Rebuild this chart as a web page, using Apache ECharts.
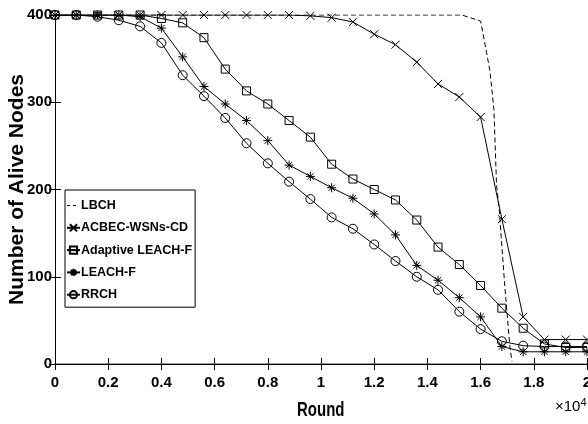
<!DOCTYPE html>
<html>
<head>
<meta charset="utf-8">
<script type="text/javascript" src="https://cdn.jsdelivr.net/npm/echarts@6/dist/echarts.min.js"></script>
<style>
  html, body { margin: 0; padding: 0; background: #fff; }
  #container { width: 588px; height: 424px; }
</style>
</head>
<body>
<div id="container"></div>
<script type="text/javascript">
    // rounds where markers sit (every 800 rounds)
    var rounds = [0, 800, 1600, 2400, 3200, 4000, 4800, 5600, 6400, 7200, 8000, 8800, 9600,
                  10400, 11200, 12000, 12800, 13600, 14400, 15200, 16000, 16800, 17600, 18400, 19200, 20000];
    var acbec    = [400, 400, 400, 400, 400, 400, 400, 400, 400, 400, 400, 400, 399, 397, 392, 378, 366, 346, 321, 306, 283, 166, 54, 28, 28, 28];
    var adaptive = [400, 400, 400, 400, 400, 396, 391, 374, 338, 313, 298, 279, 260, 229, 212, 200, 188, 165, 134, 114, 90, 64, 41, 23, 19, 19];
    var leachF   = [400, 400, 400, 400, 398, 385, 352, 318, 298, 279, 256, 228, 215, 202, 190, 172, 148, 113, 96, 76, 54, 20, 14, 14, 14, 14];
    var rrch     = [400, 400, 398, 394, 387, 368, 331, 307, 282, 253, 230, 209, 189, 168, 155, 137, 118, 100, 85, 60, 40, 26, 21, 20, 20, 20];
    // LBCH dashed curve (no markers)
    var lbchRounds = [0, 15300, 16000, 16170, 16350, 16500, 16600, 16700, 16900, 17100, 17180];
    var lbchNodes  = [400, 400, 393, 366, 336, 292, 205, 177, 93, 20, 3];
    var xTicks = ['0', '0.2', '0.4', '0.6', '0.8', '1', '1.2', '1.4', '1.6', '1.8', '2'];

    var font = '"Liberation Sans", Arial, sans-serif';

    function pairs(xs, ys) {
        var out = [];
        for (var i = 0; i < xs.length; i++) out.push([xs[i], ys[i]]);
        return out;
    }

    var xMark = 'path://M0,0L10,10M10,0L0,10';
    var star = 'path://M0,5L10,5M5,0L5,10M1.5,1.5L8.5,8.5M8.5,1.5L1.5,8.5';

    function lineSeries(name, ys, symbol, size) {
        return {
            name: name,
            type: 'line',
            data: pairs(rounds, ys),
            symbol: symbol,
            symbolSize: size,
            showAllSymbol: true,
            lineStyle: {color: '#000', width: 1},
            itemStyle: {color: 'none', borderColor: '#000', borderWidth: 1}
        };
    }

    var myChart = echarts.init(document.getElementById('container'));
    var option = {
        backgroundColor: '#fff',
        animation: false,
        grid: {left: 55, right: 1, top: 15, bottom: 60, outerBoundsMode: 'none', containLabel: false},
        legend: {
            orient: 'vertical',
            left: 65, top: 190,
            backgroundColor: '#fff',
            borderColor: '#000', borderWidth: 1,
            padding: [9, 3, 6, 1],
            itemWidth: 13, itemHeight: 9, itemGap: 9.3,
            textStyle: {fontFamily: font, fontWeight: 'bold', fontSize: 12.5, color: '#000', padding: [0, 0, 0, -4]},
            data: [{name: 'LBCH', icon: 'none'}, 'ACBEC-WSNs-CD', 'Adaptive LEACH-F', 'LEACH-F', 'RRCH']
        },
        xAxis: [{
            type: 'value', min: 0, max: 20000, interval: 2000,
            axisLine: {show: true, onZero: false, lineStyle: {color: '#808080', width: 1.5}},
            axisTick: {show: true, inside: true, length: 6, lineStyle: {color: '#000'}},
            axisLabel: {
                margin: 11, color: '#000', fontFamily: font, fontWeight: 'bold', fontSize: 15,
                formatter: function (v) { return xTicks[Math.round(v / 2000)]; }
            },
            splitLine: {show: false}
        }, {
            type: 'value', position: 'top', min: 0, max: 20000, interval: 2000,
            axisLine: {show: true, lineStyle: {color: '#000'}},
            axisTick: {show: true, inside: true, length: 6, lineStyle: {color: '#000'}},
            axisLabel: {show: false}, splitLine: {show: false}
        }],
        yAxis: [{
            type: 'value', min: 0, max: 400, interval: 100,
            name: 'Number of Alive Nodes', nameLocation: 'middle', nameGap: 27, nameRotate: 90,
            nameMoveOverlap: false,
            nameTextStyle: {fontFamily: font, fontWeight: 'bold', fontSize: 21, color: '#000'},
            axisLine: {show: true, lineStyle: {color: '#000'}},
            axisTick: {show: true, inside: true, length: 6, lineStyle: {color: '#000'}},
            axisLabel: {margin: 3, color: '#000', fontFamily: font, fontWeight: 'bold', fontSize: 15},
            splitLine: {show: false}
        }, {
            type: 'value', position: 'right', min: 0, max: 400, interval: 100,
            axisLine: {show: true, lineStyle: {color: '#000'}},
            axisTick: {show: true, inside: true, length: 6, lineStyle: {color: '#000'}},
            axisLabel: {show: false}, splitLine: {show: false}
        }],
        graphic: [{
            type: 'text', left: 297, top: 401, scaleY: 1.3,
            style: {text: 'Round', fontFamily: font, fontWeight: 'bold', fontSize: 15, fill: '#000'}
        }, {
            type: 'text', left: 555, top: 397,
            style: {
                text: '×10{s|4}',
                fontFamily: font, fontSize: 15, fill: '#000',
                rich: {s: {fontFamily: font, fontSize: 11, padding: [0, 0, 9, 0]}}
            }
        }, {
            // dashed key for LBCH in the legend box
            type: 'line', z: 100,
            shape: {x1: 67, y1: 205.5, x2: 79, y2: 205.5},
            style: {stroke: '#000', lineWidth: 1, lineDash: [3, 3]}
        }],
        series: [{
            name: 'LBCH',
            type: 'line',
            data: pairs(lbchRounds, lbchNodes),
            symbol: 'none',
            lineStyle: {color: '#000', width: 1, type: [5, 3]},
            itemStyle: {color: '#000'}
        },
            lineSeries('ACBEC-WSNs-CD', acbec, xMark, 8),
            lineSeries('Adaptive LEACH-F', adaptive, 'rect', 8),
            lineSeries('LEACH-F', leachF, star, 9),
            lineSeries('RRCH', rrch, 'circle', 9)
        ]
    };
    myChart.setOption(option);
</script>
</body>
</html>
